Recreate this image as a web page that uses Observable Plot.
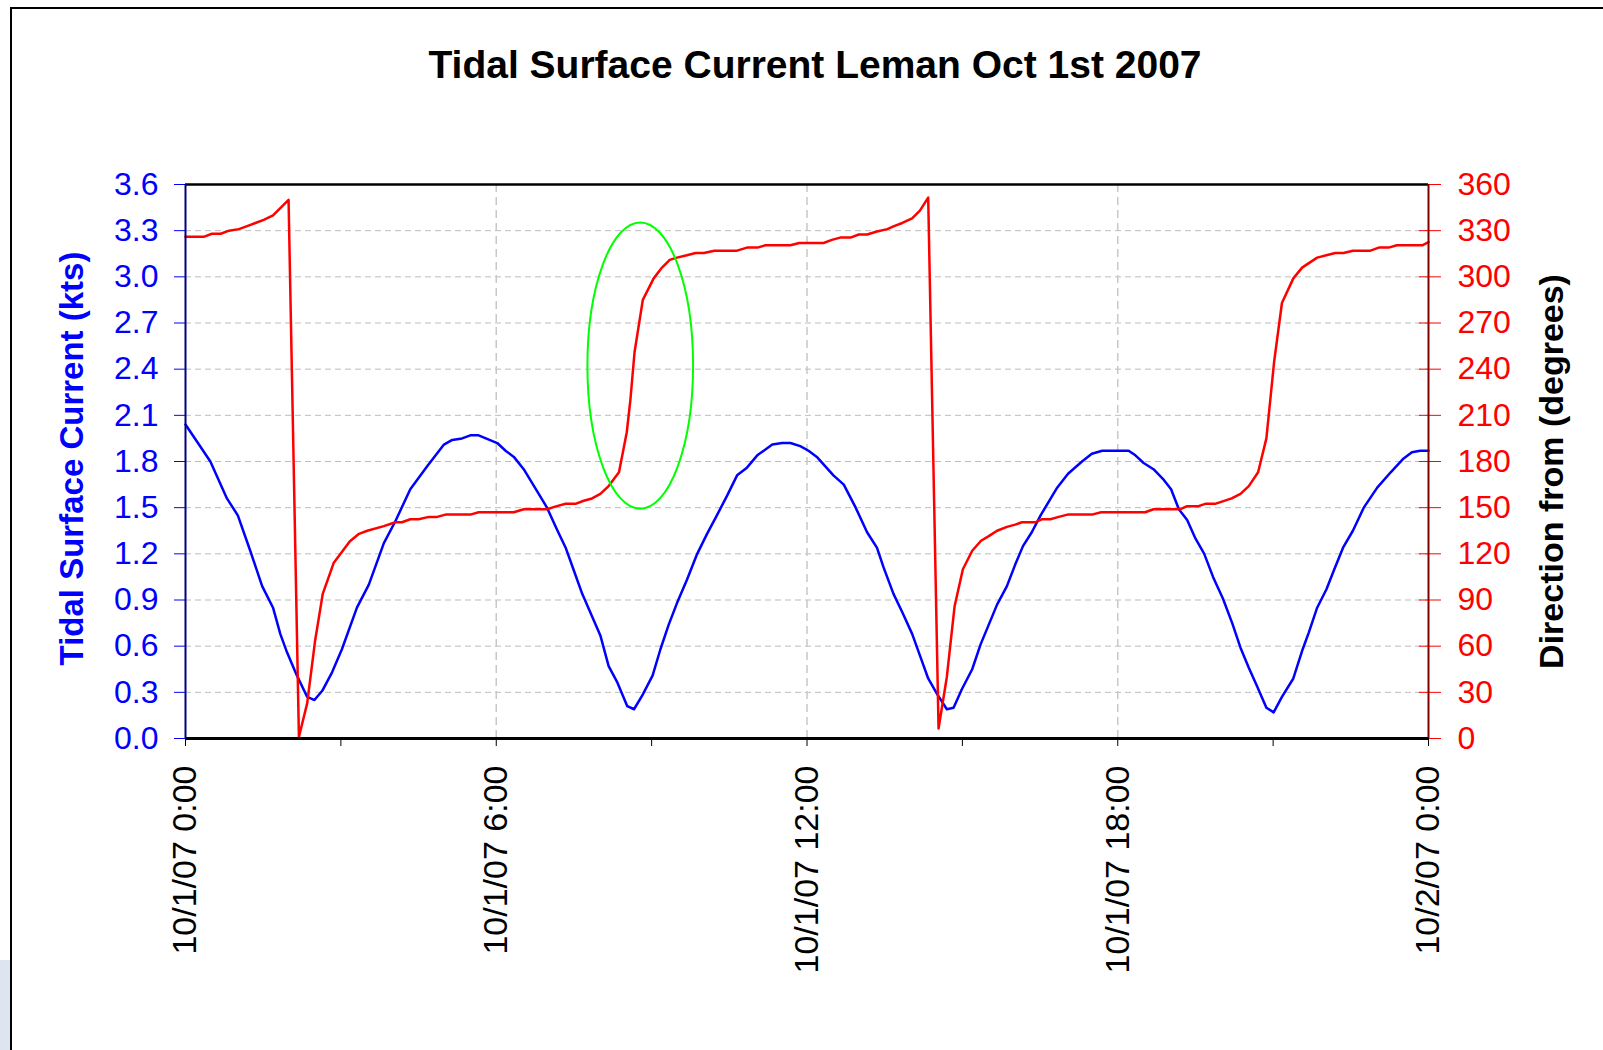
<!DOCTYPE html>
<html><head><meta charset="utf-8">
<script src="https://cdn.jsdelivr.net/npm/d3@7"></script>
<script src="https://cdn.jsdelivr.net/npm/@observablehq/plot@0.6"></script>
<style>
html,body{margin:0;padding:0;background:#fff}
body{overflow:hidden;width:1603px;height:1050px;position:relative;font-family:"Liberation Sans",Arial,sans-serif}
#chart{position:absolute;left:0;top:0}
#frame{position:absolute;left:10px;top:7px;width:1700px;height:1100px;border-left:2px solid #000;border-top:2px solid #000;box-sizing:border-box}
#strip{position:absolute;left:0;top:960px;width:10px;height:90px;background:#dfe4f1}
#title{position:absolute;left:0;width:1630px;top:45px;text-align:center;font-weight:bold;font-size:39px;line-height:40px;color:#000;font-family:"Liberation Sans",Arial,sans-serif}
</style></head><body>
<div id="chart"></div>
<div id="frame"></div><div id="strip"></div>
<div id="title">Tidal Surface Current Leman Oct 1st 2007</div>
<script>
// ---- data ----
const speedHours = [0.00,0.48,0.80,1.01,1.25,1.48,1.69,1.83,1.96,2.15,2.35,2.49,2.64,2.83,3.02,3.31,3.54,3.83,4.05,4.34,4.67,4.99,5.15,5.34,5.50,5.66,6.02,6.18,6.34,6.53,6.82,6.98,7.17,7.34,7.50,7.66,7.88,8.01,8.17,8.33,8.53,8.66,8.82,9.02,9.17,9.33,9.49,9.68,9.88,10.07,10.26,10.46,10.65,10.84,11.04,11.33,11.52,11.68,11.87,12.03,12.19,12.35,12.51,12.71,12.94,13.16,13.35,13.48,13.67,13.84,14.03,14.19,14.34,14.51,14.70,14.83,14.99,15.19,15.35,15.51,15.67,15.86,16.02,16.17,16.34,16.51,16.83,17.04,17.31,17.50,17.70,18.21,18.34,18.50,18.69,18.89,19.03,19.18,19.34,19.50,19.67,19.84,20.03,20.21,20.37,20.53,20.69,20.87,21.01,21.17,21.39,21.56,21.69,21.85,22.03,22.17,22.35,22.54,22.75,23.01,23.27,23.52,23.68,23.84,24.00];
const speedKts = [2.04,1.80,1.56,1.45,1.22,0.99,0.85,0.68,0.56,0.41,0.27,0.25,0.31,0.43,0.58,0.85,1.00,1.27,1.41,1.62,1.77,1.91,1.94,1.95,1.97,1.97,1.92,1.87,1.83,1.75,1.59,1.50,1.36,1.24,1.09,0.94,0.77,0.67,0.47,0.37,0.21,0.19,0.28,0.41,0.58,0.74,0.88,1.03,1.20,1.33,1.45,1.58,1.71,1.76,1.84,1.91,1.92,1.92,1.90,1.87,1.83,1.77,1.71,1.65,1.50,1.34,1.24,1.11,0.94,0.82,0.68,0.53,0.39,0.29,0.19,0.20,0.32,0.45,0.61,0.74,0.87,0.99,1.13,1.25,1.34,1.45,1.63,1.72,1.80,1.85,1.87,1.87,1.84,1.79,1.75,1.68,1.62,1.49,1.42,1.30,1.20,1.05,0.91,0.75,0.59,0.46,0.34,0.20,0.17,0.27,0.39,0.57,0.69,0.85,0.97,1.09,1.24,1.35,1.50,1.63,1.73,1.82,1.86,1.87,1.87];

const dirHours = [0.00,0.35,0.51,0.68,0.84,1.03,1.19,1.35,1.51,1.69,1.99,2.19,2.35,2.50,2.65,2.86,3.17,3.35,3.51,3.83,4.05,4.18,4.34,4.50,4.70,4.86,5.02,5.50,5.66,6.34,6.53,6.98,7.17,7.34,7.53,7.69,7.85,8.01,8.17,8.37,8.52,8.59,8.67,8.83,9.04,9.20,9.35,9.49,9.68,9.85,10.01,10.21,10.65,10.84,11.04,11.20,11.68,11.85,12.32,12.48,12.64,12.84,13.00,13.16,13.35,13.55,13.68,13.84,14.03,14.18,14.34,14.54,14.70,14.85,15.01,15.19,15.36,15.51,15.67,15.86,16.02,16.15,16.41,16.54,16.70,16.86,17.03,17.50,17.68,18.53,18.69,19.21,19.34,19.56,19.69,19.88,20.20,20.37,20.53,20.71,20.87,21.02,21.17,21.39,21.56,21.85,22.20,22.36,22.54,22.88,23.04,23.23,23.39,23.88,24.00];
const dirDeg = [326,326,328,328,330,331,333,335,337,340,350,1,23,63,94,114,128,133,135,138,140.5,140.5,142.5,142.5,144,144,145.5,145.5,147,147,149,149,151,152.5,152.5,154.5,156,159,164,173,199,220,251,285,299,306,311,312.5,314,315.5,315.5,317,317,319,319,320.5,320.5,322,322,324,325.5,325.5,327.5,327.5,329.5,331,333,335,338,343,351.5,6.5,40,86,110,122,128.5,131.5,135,137.5,139,140.5,140.5,142.5,142.5,144,145.5,145.5,147,147,149,149,151,151,152.5,152.5,156,159,164,173,195,245,283,299,306,312.5,315.5,315.5,317,317,319,319,320.5,320.5,322.5];

const leftTicks = [0.0,0.3,0.6,0.9,1.2,1.5,1.8,2.1,2.4,2.7,3.0,3.3,3.6];
const rightTicks = [0,30,60,90,120,150,180,210,240,270,300,330,360];
const xTickHours = [0,3,6,9,12,15,18,21,24];
const gridHours = [6,12,18];

// highlighted oval (annotation), in data units
const ovalHour = 8.79, ovalKts = 2.42, ovalHalfHours = 1.02, ovalHalfKts = 0.93;

// ---- build ----
const DEG_PER_KT = 100; // 360 deg <-> 3.6 kts
const t0 = new Date(2007, 9, 1, 0, 0, 0);
const at = h => new Date(t0.getTime() + Math.round(h * 3600000));
const speed = speedHours.map((h, i) => ({t: at(h), v: speedKts[i]}));
const dir = dirHours.map((h, i) => ({t: at(h), v: dirDeg[i] / DEG_PER_KT}));
const fmtX = d => d.getHours() % 6 === 0 ? `${d.getMonth() + 1}/${d.getDate()}/07 ${d.getHours()}:00` : "";

function greenOval(index, scales) {
  const {x, y} = scales;
  const cx = x(at(ovalHour)), cy = y(ovalKts);
  const rx = x(at(ovalHour + ovalHalfHours)) - cx;
  const ry = cy - y(ovalKts + ovalHalfKts);
  return d3.create("svg:ellipse")
    .attr("cx", cx).attr("cy", cy).attr("rx", rx).attr("ry", ry)
    .attr("fill", "none").attr("stroke", "#00ff00").attr("stroke-width", 2).node();
}

const chart = Plot.plot({
  width: 1603, height: 1050,
  marginTop: 184, marginBottom: 312, marginLeft: 185, marginRight: 175,
  x: {type: "time", domain: [at(0), at(24)]},
  y: {domain: [0, 3.6]},
  style: {fontFamily: "'Liberation Sans', Arial, sans-serif", fontSize: "32px", background: "transparent", overflow: "visible"},
  marks: [
    Plot.gridY(leftTicks.slice(1, -1), {stroke: "#bdbdbd", strokeOpacity: 1, strokeDasharray: "6,4"}),
    Plot.gridX(gridHours.map(at), {stroke: "#c8c8c8", strokeOpacity: 1, strokeWidth: 1.5, strokeDasharray: "8,5"}),
    Plot.axisY(leftTicks, {anchor: "left", tickSize: 11, tickPadding: 16, color: "#0000ff", tickFormat: d => d.toFixed(1), fontSize: 32, label: null}),
    Plot.axisY(rightTicks.map(d => d / DEG_PER_KT), {anchor: "right", tickSize: 12, tickPadding: 17, color: "#ff0000", tickFormat: d => String(Math.round(d * DEG_PER_KT)), fontSize: 32, label: null}),
    Plot.axisY(rightTicks.map(d => d / DEG_PER_KT), {anchor: "right", tickSize: -10, tickFormat: () => "", color: "#ff0000", label: null}),
    Plot.axisX(xTickHours.map(at), {anchor: "bottom", tickSize: 8, tickPadding: 19, tickRotate: -90, tickFormat: fmtX, fontSize: 34, color: "#000", label: null}),
    Plot.line(speed, {x: "t", y: "v", stroke: "#0000ff", strokeWidth: 2.5}),
    Plot.line(dir, {x: "t", y: "v", stroke: "#ff0000", strokeWidth: 2.5}),
    Plot.ruleY([3.6], {stroke: "#000", strokeWidth: 2.5}),
    Plot.ruleY([0], {stroke: "#000", strokeWidth: 3}),
    Plot.ruleX([at(0)], {stroke: "#000080", strokeWidth: 2}),
    Plot.ruleX([at(24)], {stroke: "#800000", strokeWidth: 2}),
    greenOval,
    Plot.text(["Tidal Surface Current (kts)"], {frameAnchor: "left", textAnchor: "middle", text: d => d, rotate: -90, dx: -113, dy: -3, fill: "#0000ff", fontSize: 33, fontWeight: "bold"}),
    Plot.text(["Direction from (degrees)"], {frameAnchor: "right", textAnchor: "middle", text: d => d, rotate: -90, dx: 124, dy: 10, fill: "#000", fontSize: 34, fontWeight: "bold"})
  ]
});
document.getElementById("chart").appendChild(chart);
</script></body></html>
